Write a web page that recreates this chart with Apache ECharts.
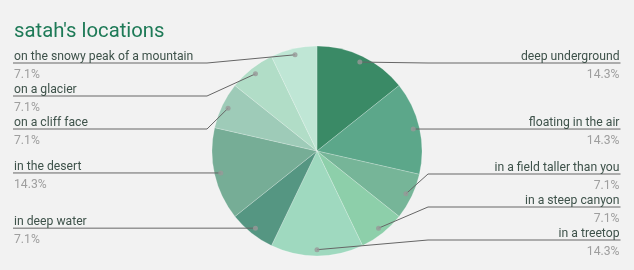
<!DOCTYPE html>
<html>
<head>
<meta charset="utf-8">
<script src="https://cdn.jsdelivr.net/npm/echarts@6/dist/echarts.min.js"></script>
<style>
html,body{margin:0;padding:0;background:#f2f2f2;}
#chart{width:634px;height:270px;}
</style>
</head>
<body>
<div id="chart"></div>
<script>
const titleText = "satah's locations";
const categories = ['deep underground', 'floating in the air', 'in a field taller than you', 'in a steep canyon', 'in a treetop', 'in deep water', 'in the desert', 'on a cliff face', 'on a glacier', 'on the snowy peak of a mountain'];
const values = [2, 2, 1, 1, 2, 1, 2, 1, 1, 1];
const colors = ['#3a8a66', '#5ca78a', '#76b598', '#8dcfaa', '#9fd9bf', '#559682', '#76ad96', '#9ecbb8', '#b1ddc7', '#bfe6d5'];

const CX = 317, CY = 151, R = 105, DOT = 0.94;
const GAP = 33, TOP = 63, BOTTOM = 240;
const total = values.reduce((a, b) => a + b, 0);
const mids = [];
let acc = 0;
values.forEach(v => { mids.push(acc + v / 2); acc += v; });
const angles = mids.map(m => m / total * Math.PI * 2);
const dots = angles.map(a => [CX + DOT * R * Math.sin(a), CY - DOT * R * Math.cos(a)]);
const isRight = angles.map(a => a <= Math.PI + 1e-9);

const lineY = new Array(values.length);
function spread(idx) {
  idx.sort((a, b) => dots[a][1] - dots[b][1]);
  const ys = idx.map(i => dots[i][1]);
  for (let k = 0; k < ys.length; k++) {
    ys[k] = Math.max(ys[k], TOP, k > 0 ? ys[k - 1] + GAP : -Infinity);
  }
  for (let k = ys.length - 1; k >= 0; k--) {
    ys[k] = Math.min(ys[k], BOTTOM, k < ys.length - 1 ? ys[k + 1] - GAP : Infinity);
  }
  idx.forEach((i, k) => { lineY[i] = ys[k]; });
}
spread(values.map((v, i) => i).filter(i => isRight[i]));
spread(values.map((v, i) => i).filter(i => !isRight[i]));

const pieData = categories.map((c, i) => ({name: c, value: values[i], itemStyle: {color: colors[i]}}));

const chart = echarts.init(document.getElementById('chart'), null, {renderer: 'canvas'});
chart.setOption({
  backgroundColor: '#f2f2f2',
  animation: false,
  textStyle: {fontFamily: 'Roboto'},
  title: {
    text: titleText, left: 9, top: 17,
    textStyle: {fontSize: 20.3, fontWeight: 'normal', color: '#1e7a57', fontFamily: 'Roboto'}
  },
  polar: {center: [CX, CY], radius: R},
  angleAxis: {type: 'value', min: 0, max: total, startAngle: 90, clockwise: true, show: false},
  radiusAxis: {type: 'value', min: 0, max: 1, show: false},
  series: [{
    type: 'pie',
    z: 2,
    center: [CX, CY],
    radius: R,
    startAngle: 90,
    clockwise: true,
    data: pieData,
    itemStyle: {borderColor: 'rgba(255,255,255,0.35)', borderWidth: 0.6},
    label: {show: false},
    labelLine: {show: false},
    emphasis: {disabled: true}
  }, {
    type: 'pie',
    z: 3,
    silent: true,
    center: [CX, CY],
    radius: R,
    startAngle: 90,
    clockwise: true,
    avoidLabelOverlap: false,
    data: pieData.map(d => ({name: d.name, value: d.value, itemStyle: {color: 'rgba(0,0,0,0)'}})),
    itemStyle: {borderWidth: 0},
    label: {
      show: true,
      position: 'outside',
      formatter: function (p) {
        return '{n|' + p.name + '}\n{p|' + (p.value / total * 100).toFixed(1) + '%}';
      },
      rich: {
        n: {fontSize: 12.2, lineHeight: 16, color: '#3e524a', fontFamily: 'Roboto'},
        p: {fontSize: 12.2, lineHeight: 20, color: '#9e9e9e', fontFamily: 'Roboto'}
      }
    },
    labelLine: {show: true, showAbove: true, smooth: false, lineStyle: {color: '#666666', width: 1}},
    labelLayout: function (params) {
      const i = params.dataIndex;
      const y = lineY[i];
      const d = dots[i];
      if (isRight[i]) {
        return {
          x: 619.5, y: y - 14.5, align: 'right', verticalAlign: 'top',
          labelLinePoints: [[d[0], d[1]], [CX + 111, y], [620.5, y]]
        };
      }
      return {
        x: 14, y: y - 14.5, align: 'left', verticalAlign: 'top',
        labelLinePoints: [[d[0], d[1]], [CX - 110, y], [13, y]]
      };
    },
    emphasis: {disabled: true}
  }, {
    type: 'scatter',
    coordinateSystem: 'polar',
    symbolSize: 5,
    silent: true,
    itemStyle: {color: '#999999'},
    data: mids.map(m => [DOT, m]),
    z: 5
  }]
});
</script>
</body>
</html>
